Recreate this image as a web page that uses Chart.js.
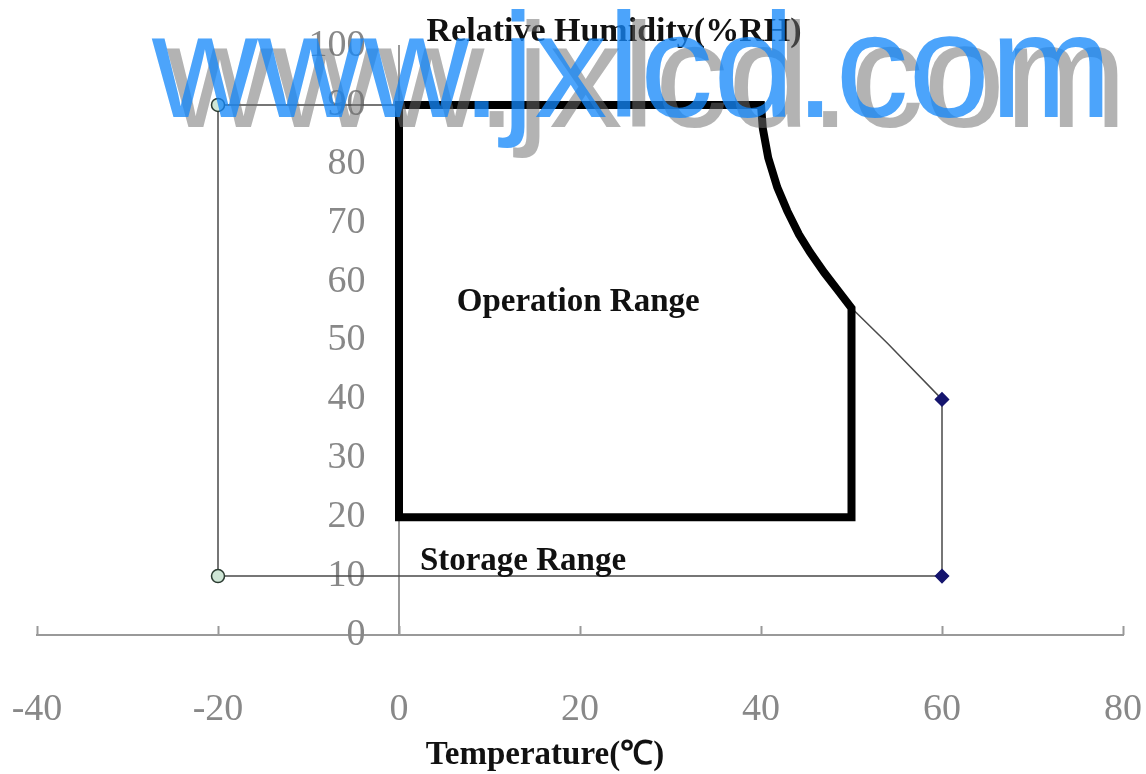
<!DOCTYPE html>
<html>
<head>
<meta charset="utf-8">
<script src="https://cdn.jsdelivr.net/npm/chart.js@4.4.1/dist/chart.umd.min.js"></script>
<style>
  html, body { margin: 0; padding: 0; background: #fff; }
  #wrap { width: 1146px; height: 774px; }
</style>
</head>
<body>
<div id="wrap"><canvas id="chart"></canvas></div>
<script>
// Operation range (thick outline): temperature / humidity pairs
const opTemp = [0, 0, 40, 40.2, 40.8, 41.8, 42.9, 44.2, 45.4, 47, 48.5, 50, 50, 0];
const opRH   = [20, 90, 90, 86, 81, 76, 72, 68, 65, 61.5, 58.5, 55.5, 20, 20];

// Storage range (thin outline)
const stTemp = [-20, 40, 40.2, 40.8, 41.8, 42.9, 44.2, 45.4, 47, 48.5, 50, 54, 60, 60, -20, -20];
const stRH   = [90, 90, 86, 81, 76, 72, 68, 65, 61.5, 58.5, 55.5, 49.5, 40, 10, 10, 90];

// corners of the storage range that carry a marker
const stMarked = [0, 12, 13, 14];

const xTicks = [-40, -20, 0, 20, 40, 60, 80];
const yTicks = [0, 10, 20, 30, 40, 50, 60, 70, 80, 90, 100];

const toPoints = (xs, ys) => xs.map((x, i) => ({ x, y: ys[i] }));

const SERIF = '"Liberation Serif", "Times New Roman", serif';

// texts, tick marks and the watermark
const overlay = {
    id: 'overlay',
    beforeDatasetsDraw(chart) {
        const { ctx } = chart;
        const xs = chart.scales.x, ys = chart.scales.y;
        const y0 = ys.getPixelForValue(0);
        ctx.save();
        ctx.strokeStyle = '#999';
        ctx.lineWidth = 2;
        xTicks.forEach(v => {
            const px = Math.round(xs.getPixelForValue(v)) + 0.5;
            ctx.beginPath();
            ctx.moveTo(px, y0);
            ctx.lineTo(px, y0 - 9);
            ctx.stroke();
        });
        ctx.restore();
    },
    afterDraw(chart) {
        const { ctx } = chart;
        const xs = chart.scales.x, ys = chart.scales.y;
        ctx.save();
        ctx.fillStyle = '#111';
        ctx.textAlign = 'center';
        ctx.textBaseline = 'middle';
        ctx.font = 'bold 34px ' + SERIF;
        ctx.fillText('Relative Humidity(%RH)', 614, 32);
        ctx.font = 'bold 33px ' + SERIF;
        ctx.fillText('Temperature(\u2103)', 545, 755);
        ctx.fillText('Operation Range', xs.getPixelForValue(19.8), ys.getPixelForValue(56.4));
        ctx.fillText('Storage Range', xs.getPixelForValue(13.7), ys.getPixelForValue(12.4));

        // watermark
        ctx.textAlign = 'left';
        ctx.textBaseline = 'alphabetic';
        ctx.font = '148px "Liberation Sans", Arial, sans-serif';
        ctx.fillStyle = 'rgba(110,110,110,0.52)';
        ctx.fillText('www.jxlcd.com', 167, 127, 960);
        ctx.fillStyle = 'rgba(20,135,250,0.76)';
        ctx.fillText('www.jxlcd.com', 152, 117, 960);
        ctx.restore();
    }
};

const labelFont = { family: SERIF, size: 38 };

new Chart(document.getElementById('chart'), {
    type: 'scatter',
    data: {
        datasets: [
            {
                label: 'Operation Range',
                data: toPoints(opTemp, opRH),
                showLine: true,
                borderColor: '#000',
                borderWidth: 8,
                borderJoinStyle: 'miter',
                borderCapStyle: 'square',
                pointRadius: 0,
                tension: 0,
                order: 0
            },
            {
                label: 'Storage Range',
                data: toPoints(stTemp, stRH),
                showLine: true,
                borderColor: '#4a4a4a',
                borderWidth: 1.5,
                borderCapStyle: 'square',
                tension: 0,
                order: 1,
                pointRadius: c => stMarked.includes(c.dataIndex) ? 6.5 : 0,
                pointStyle: c => stTemp[c.dataIndex] < 0 ? 'circle' : 'rectRot',
                pointBackgroundColor: c => stTemp[c.dataIndex] < 0 ? '#cfe6d6' : '#15156e',
                pointBorderColor: c => stTemp[c.dataIndex] < 0 ? '#2a3a30' : '#15156e',
                pointBorderWidth: 1.5
            }
        ]
    },
    options: {
        responsive: true,
        maintainAspectRatio: false,
        animation: false,
        layout: { padding: { left: 37, right: 23, top: 46, bottom: 139 } },
        plugins: { legend: { display: false }, tooltip: { enabled: false } },
        scales: {
            x: {
                type: 'linear',
                min: -40, max: 80,
                position: { y: 0 },
                afterBuildTicks: s => { s.ticks = xTicks.map(v => ({ value: v })); },
                afterFit: s => { s.paddingLeft = 0; s.paddingRight = 0; },
                grid: { drawOnChartArea: false, drawTicks: false },
                border: { color: '#999', width: 2 },
                ticks: { color: '#888', padding: 52, font: labelFont }
            },
            // humidity axis line, crossing at 0 °C
            y: {
                type: 'linear',
                min: 0, max: 100,
                position: { x: 0 },
                afterFit: s => { s.paddingTop = 0; s.paddingBottom = 0; },
                grid: { drawOnChartArea: false, drawTicks: false },
                border: { color: '#999', width: 2 },
                ticks: { display: false }
            },
            // humidity tick labels, set a little left of the axis line
            yLabels: {
                type: 'linear',
                axis: 'y',
                min: 0, max: 100,
                position: { x: -3.7 },
                afterBuildTicks: s => { s.ticks = yTicks.map(v => ({ value: v })); },
                afterFit: s => { s.paddingTop = 0; s.paddingBottom = 0; },
                grid: { display: false, drawTicks: false },
                border: { display: false },
                ticks: { color: '#888', padding: 0, font: labelFont }
            }
        }
    },
    plugins: [overlay]
});
</script>
</body>
</html>
